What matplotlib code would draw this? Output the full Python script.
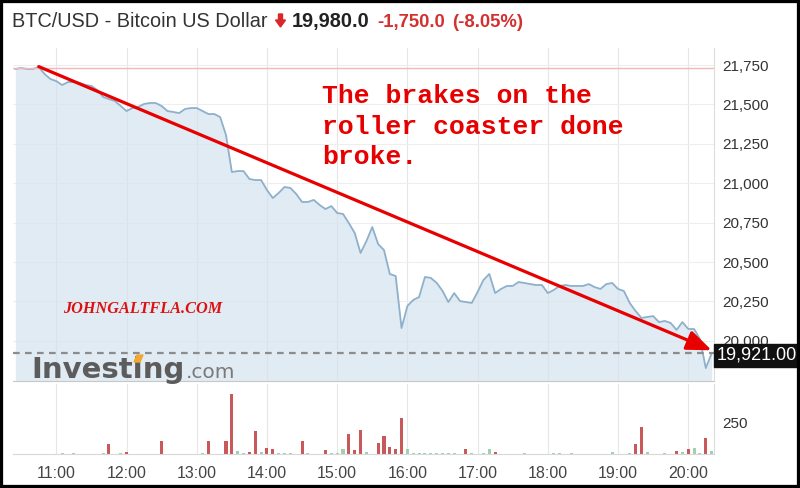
import matplotlib
matplotlib.use("Agg")
import matplotlib.pyplot as plt
from matplotlib.patches import Rectangle, Polygon
from matplotlib.transforms import Affine2D
import pandas as pd

plt.rcParams['font.family'] = ['Liberation Sans', 'DejaVu Sans']

W, H = 800, 488

# ---------------- data ----------------
title_name = "BTC/USD - Bitcoin US Dollar"
last_price_text = "19,980.0"
change_text = "-1,750.0"
change_pct_text = "(-8.05%)"
annotation_lines = ["The brakes on the", "roller coaster done", "broke."]
watermark = "JOHNGALTFLA.COM"
current_label = "19,921.00"

session_date = "2022-06-18"
start_time = "10:25"
bar_minutes = 5

prices = [21725, 21731, 21725, 21725, 21737, 21693, 21661, 21648, 21623, 21642,
          21642, 21636, 21623, 21617, 21591, 21547, 21534, 21522, 21490, 21458,
          21477, 21484, 21503, 21509, 21509, 21490, 21458, 21452, 21445, 21471,
          21477, 21477, 21458, 21439, 21439, 21420, 21306, 21071, 21077, 21077,
          21027, 21020, 21020, 20957, 20906, 20938, 20976, 20970, 20932, 20881,
          20881, 20894, 20862, 20836, 20855, 20811, 20805, 20747, 20684, 20557,
          20633, 20722, 20614, 20576, 20424, 20411, 20081, 20221, 20259, 20278,
          20405, 20399, 20368, 20317, 20246, 20303, 20252, 20246, 20240, 20310,
          20386, 20424, 20303, 20329, 20348, 20348, 20373, 20367, 20360, 20354,
          20354, 20303, 20322, 20348, 20354, 20348, 20348, 20348, 20360, 20341,
          20329, 20360, 20367, 20329, 20316, 20240, 20189, 20145, 20151, 20157,
          20119, 20126, 20113, 20069, 20119, 20075, 20075, 20011, 19827, 19921]

volumes = [0, 0, 0, 0, 0, 0, 0, 0, 8, 0,
           5, 0, 0, 0, 0, 8, 78, 0, 8, 18,
           0, 0, 0, 0, 0, 99, 0, 0, 0, 0,
           0, 0, 8, 99, 0, 0, 99, 471, 26, 5,
           18, 177, 14, 47, 39, 5, 5, 5, 0, 99,
           5, 0, 0, 29, 5, 10, 39, 156, 29, 185,
           14, 0, 86, 138, 57, 39, 284, 36, 8, 8,
           8, 8, 8, 8, 8, 8, 0, 36, 8, 0,
           5, 36, 18, 0, 0, 0, 0, 8, 0, 0,
           0, 0, 5, 5, 0, 5, 0, 0, 0, 0,
           0, 0, 14, 0, 0, 5, 78, 213, 18, 0,
           0, 5, 0, 26, 18, 36, 44, 8, 125, 23]

vol_up = [1, 1, 1, 1, 1, 1, 1, 1, 1, 1,
          1, 1, 1, 1, 1, 1, 0, 1, 1, 0,
          1, 1, 1, 1, 1, 0, 1, 1, 1, 1,
          1, 1, 1, 0, 1, 1, 0, 0, 1, 1,
          0, 0, 1, 0, 0, 1, 1, 1, 1, 0,
          1, 1, 1, 0, 1, 1, 1, 0, 0, 0,
          1, 1, 0, 0, 0, 0, 0, 1, 1, 1,
          1, 1, 1, 1, 1, 1, 1, 0, 1, 1,
          1, 1, 0, 1, 1, 1, 1, 1, 1, 1,
          1, 1, 1, 1, 1, 1, 1, 1, 1, 1,
          1, 1, 1, 1, 1, 1, 0, 0, 1, 1,
          1, 1, 1, 0, 1, 0, 1, 1, 0, 1]

prev_close = 21730
current_price = 19921
price_ticks = [20000, 20250, 20500, 20750, 21000, 21250, 21500, 21750]
price_range = (19745, 21858)
volume_ticks = [250]
volume_range = (0, 547)
hour_labels = ["11:00", "12:00", "13:00", "14:00", "15:00",
               "16:00", "17:00", "18:00", "19:00", "20:00"]
arrow_start = ("10:45", 21740)
arrow_end = ("20:20", 19940)

# ---------------- build ----------------
times = pd.date_range(f"{session_date} {start_time}", periods=len(prices),
                      freq=f"{bar_minutes}min")
hour_pos = [pd.Timestamp(f"{session_date} {h}") for h in hour_labels]
pad_t = pd.Timedelta(minutes=2)
xlim = (times[0] - pad_t, times[-1] + pad_t)

fig = plt.figure(figsize=(W / 100, H / 100), dpi=100)
fig.patch.set_facecolor("white")
pix = Affine2D().scale(1 / W, -1 / H).translate(0, 1) + fig.transFigure

left, right = 13, 714
ax = fig.add_axes([left / W, 1 - 381 / H, (right - left) / W, (381 - 48) / H])
vax = fig.add_axes([left / W, 1 - 454 / H, (right - left) / W, (454 - 384) / H])

grid_c = "#e6e6e6"
for a in (ax, vax):
    a.set_xlim(*xlim)
    a.set_facecolor("white")
    for s in ("top", "left"):
        a.spines[s].set_visible(False)
    a.spines["right"].set_color("#dcdcdc")
    a.yaxis.tick_right()
    a.set_xticks(hour_pos)
    a.tick_params(axis="both", length=0, colors="#333333", labelsize=11)
    a.tick_params(axis="y", pad=6)
    for hp in hour_pos:
        a.axvline(hp, color=grid_c, lw=0.8, zorder=0)

# price panel
ax.set_ylim(*price_range)
ax.set_yticks(price_ticks)
ax.set_yticklabels([f"{v:,}" for v in price_ticks])
ax.set_xticklabels([])
ax.spines["bottom"].set_color("#c8c8c8")
for v in price_ticks:
    ax.axhline(v, color="#eeeeee", lw=0.8, zorder=0)
ax.fill_between(times, prices, price_range[0], color="#d5e3ee", alpha=0.7,
                lw=0, zorder=1)
ax.plot(times, prices, color="#8eb0cb", lw=1.3, zorder=2)
ax.axhline(prev_close, color="#f2b8b8", lw=1, zorder=2)
ax.axhline(current_price, color="#8c8c8c", lw=1.6,
           linestyle=(0, (3, 2.4)), zorder=2)

ax.annotate("", xy=(pd.Timestamp(f"{session_date} {arrow_end[0]}"), arrow_end[1]),
            xytext=(pd.Timestamp(f"{session_date} {arrow_start[0]}"), arrow_start[1]),
            arrowprops=dict(arrowstyle="-|>,head_length=1.0,head_width=0.4",
                            color="#e80000", lw=2.3, mutation_scale=15,
                            shrinkA=0, shrinkB=0),
            annotation_clip=False, zorder=6)

# volume panel
vax.set_ylim(*volume_range)
vax.set_yticks(volume_ticks)
vax.set_yticklabels([str(v) for v in volume_ticks])
vax.set_xticklabels(hour_labels)
vax.tick_params(axis="x", pad=9, labelsize=11.5, colors="#444444")
vax.spines["bottom"].set_color("#d8d8d8")
bar_colors = ["#9fd1b1" if u else "#c9585a" for u in vol_up]
vax.bar(times, volumes, width=pd.Timedelta(minutes=bar_minutes * 0.52),
        color=bar_colors, zorder=2)

# ---------------- texts ----------------
fig.canvas.draw()
rend = fig.canvas.get_renderer()
t1 = fig.text(12, 27, title_name, transform=pix, fontsize=14.3, color="#333333",
              va="baseline")
x = t1.get_window_extent(rend).x1 + 8
fig.add_artist(Polygon([(x + 3, 14), (x + 7, 14), (x + 7, 20), (x + 10, 20),
                        (x + 5, 27), (x + 0, 20), (x + 3, 20)],
                       closed=True, transform=pix, color="#d9262a"))
x += 16
t2 = fig.text(x, 27, last_price_text, transform=pix, fontsize=14.3,
              fontweight="bold", color="#222222", va="baseline")
x = t2.get_window_extent(rend).x1 + 8
t3 = fig.text(x, 27, change_text, transform=pix, fontsize=13.3,
              fontweight="bold", color="#d3302f", va="baseline")
x = t3.get_window_extent(rend).x1 + 7
fig.text(x, 27, change_pct_text, transform=pix, fontsize=13.3,
         fontweight="bold", color="#d3302f", va="baseline")

for line, base in zip(annotation_lines, [103, 133.5, 164]):
    fig.text(322, base, line, transform=pix, fontsize=19,
             family=["Liberation Mono", "DejaVu Sans Mono"], fontweight="bold",
             color="#e60000", va="baseline", zorder=7)

fig.text(63, 313, watermark, transform=pix, fontsize=11.7,
         family=["Liberation Serif", "DejaVu Serif"], style="italic",
         fontweight="bold", color="#dd1111", va="baseline", zorder=7)

# Investing.com logo
fig.text(31, 378, "Investing", transform=pix, fontsize=21,
         family=["DejaVu Sans"], fontweight="bold", color="#5c5c5c",
         va="baseline", zorder=7)
fig.text(186, 378, ".com", transform=pix, fontsize=14.5,
         family=["DejaVu Sans"], color="#7a7a7a", va="baseline", zorder=7)
fig.add_artist(Polygon([(134, 362), (137, 355), (143, 355), (140, 362)],
                       closed=True, transform=pix, color="#f0a830", zorder=8))

# current price label box
fig.add_artist(Rectangle((714, 344), W - 714, 23, transform=pix,
                         color="#111111", zorder=5))
fig.text(717, 355.5, current_label, transform=pix, fontsize=13,
         color="white", va="center", zorder=6)

# image frame
fig.add_artist(Rectangle((0, 0), 1, 1, transform=fig.transFigure, fill=False,
                         edgecolor="black", lw=4.5, zorder=20))

fig.savefig("out.png", dpi=100)
